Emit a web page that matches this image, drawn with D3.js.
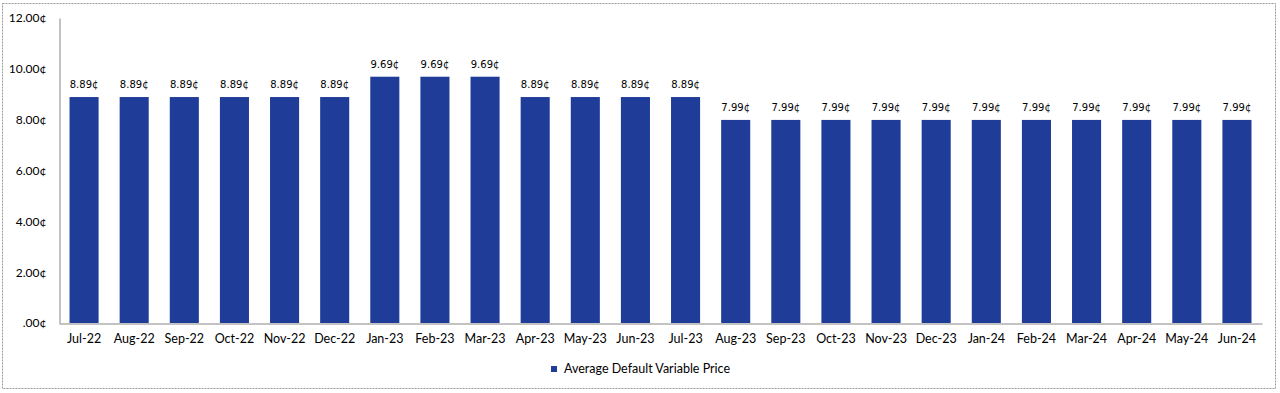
<!DOCTYPE html>
<html>
<head>
<meta charset="utf-8">
<script src="https://cdn.jsdelivr.net/npm/d3@7"></script>
<style>
  html, body { margin: 0; padding: 0; background: #fff; }
  #chart { width: 1280px; height: 393px; }
</style>
</head>
<body>
<div id="chart"></div>
<script>
const months = ["Jul-22", "Aug-22", "Sep-22", "Oct-22", "Nov-22", "Dec-22", "Jan-23", "Feb-23",
  "Mar-23", "Apr-23", "May-23", "Jun-23", "Jul-23", "Aug-23", "Sep-23", "Oct-23", "Nov-23",
  "Dec-23", "Jan-24", "Feb-24", "Mar-24", "Apr-24", "May-24", "Jun-24"];
const prices = [8.89, 8.89, 8.89, 8.89, 8.89, 8.89, 9.69, 9.69, 9.69, 8.89, 8.89, 8.89, 8.89,
  7.99, 7.99, 7.99, 7.99, 7.99, 7.99, 7.99, 7.99, 7.99, 7.99, 7.99];
const yTicks = [0, 2, 4, 6, 8, 10, 12];
const seriesName = "Average Default Variable Price";

(function () {
  const W = 1280, H = 393;
  const plot = { left: 59, right: 1262, top: 18, bottom: 323 };
  const barColor = "#1f3c98";
  const font = "Lato, 'Open Sans', sans-serif";

  const svg = d3.select("#chart").append("svg")
    .attr("width", W)
    .attr("height", H);

  // chart frame
  svg.append("rect")
    .attr("x", 2.5).attr("y", 3.5)
    .attr("width", 1273).attr("height", 385)
    .attr("fill", "#fff")
    .attr("stroke", "#9a9a9a")
    .attr("stroke-dasharray", "2,1");

  const x = d3.scaleBand()
    .domain(months)
    .range([plot.left, plot.right])
    .paddingInner(0.42)
    .paddingOuter(0.21);

  const y = d3.scaleLinear()
    .domain([0, 12])
    .range([plot.bottom, plot.top]);

  const fmt = v => (v === 0 ? ".00" : v.toFixed(2)) + "¢";

  // y axis
  const yAxis = svg.append("g")
    .attr("transform", `translate(${plot.left + 0.5},0)`)
    .call(d3.axisLeft(y).tickValues(yTicks).tickSize(0).tickPadding(13).tickFormat(fmt));
  yAxis.select(".domain").attr("stroke", "#868686");
  yAxis.selectAll("text")
    .style("font-family", font)
    .style("font-size", "12px")
    .attr("fill", "#000");

  // bars
  svg.selectAll("rect.bar")
    .data(prices)
    .enter()
    .append("rect")
    .attr("class", "bar")
    .attr("x", (d, i) => x(months[i]))
    .attr("y", d => y(d))
    .attr("width", x.bandwidth())
    .attr("height", d => y(0) - y(d))
    .attr("fill", barColor);

  // data labels
  svg.selectAll("text.lbl")
    .data(prices)
    .enter()
    .append("text")
    .attr("class", "lbl")
    .attr("x", (d, i) => x(months[i]) + x.bandwidth() / 2)
    .attr("y", d => y(d) - 9)
    .attr("text-anchor", "middle")
    .style("font-family", "'DejaVu Sans', sans-serif")
    .style("font-size", "10px")
    .attr("fill", "#000")
    .text(d => d.toFixed(2) + "¢");

  // x axis
  const xAxis = svg.append("g")
    .attr("transform", `translate(0,${plot.bottom + 0.5})`)
    .call(d3.axisBottom(x).tickSize(0).tickPadding(11));
  xAxis.select(".domain").attr("stroke", "#868686");
  xAxis.selectAll("text")
    .style("font-family", font)
    .style("font-size", "12.5px")
    .attr("fill", "#000");

  // legend
  const legend = svg.append("g").attr("transform", "translate(551,366)");
  legend.append("rect")
    .attr("width", 6).attr("height", 6)
    .attr("fill", barColor);
  legend.append("text")
    .attr("x", 13).attr("y", 3)
    .attr("dy", "0.35em")
    .style("font-family", font)
    .style("font-size", "12.5px")
    .attr("fill", "#000")
    .text(seriesName);
})();
</script>
</body>
</html>
